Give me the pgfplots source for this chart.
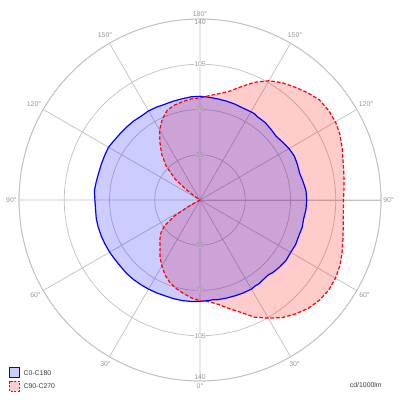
\documentclass[border=0pt]{standalone}
\usepackage{fontspec}
\setmainfont{Liberation Sans}
\usepackage{pgfplots}
\pgfplotsset{compat=1.18}
\usepgfplotslibrary{polar}
\usepackage{pgfplotstable}
\definecolor{gridgray}{RGB}{192,192,192}
\definecolor{labgray}{RGB}{150,150,150}
\definecolor{txtgray}{RGB}{60,60,60}
\definecolor{cblue}{RGB}{0,0,255}
\definecolor{cred}{RGB}{255,0,0}
\definecolor{overlap}{RGB}{204,163,214}

% g = gamma angle (deg), r = cd/1000lm, s = +1 right half / -1 left half
\pgfplotstableread{
g r s
0 78.5 1
5 78.0 1
7.5 77.8 1
10 78.3 1
15 78.6 1
20 78.9 1
25 79.3 1
30 79.6 1
32.5 79.0 1
35 79.2 1
40 78.5 1
42.5 78.4 1
45 79.5 1
50 80.5 1
55 81.3 1
60 81.0 1
65 81.6 1
70 81.3 1
75 81.8 1
80 81.5 1
85 82.3 1
90 82.5 1
95 82.3 1
100 81.0 1
105 79.8 1
110 80.2 1
115 80.5 1
120 79.5 1
125 78.0 1
130 76.8 1
135 77.5 1
140 78.3 1
145 78.2 1
147.5 78.9 1
150 78.8 1
155 78.5 1
160 78.9 1
165 79.2 1
170 79.4 1
175 79.8 1
180 80.2 1
175 80.1 -1
170 79.5 -1
165 79.2 -1
160 78.9 -1
155 79.3 -1
150 79.6 -1
145 79.2 -1
140 79.8 -1
135 80.0 -1
130 80.3 -1
125 80.8 -1
120 81.7 -1
115 81.4 -1
110 81.2 -1
105 81.1 -1
100 81.5 -1
95 82.0 -1
90 81.3 -1
85 81.1 -1
80 81.5 -1
75 81.5 -1
70 81.3 -1
65 81.0 -1
60 80.7 -1
55 80.3 -1
50 80.1 -1
45 80.3 -1
40 80.2 -1
35 79.9 -1
30 79.6 -1
25 79.3 -1
20 78.9 -1
15 79.0 -1
10 79.0 -1
5 78.8 -1
0 78.5 -1
}\blueCurve

\pgfplotstableread{
g r s
0 78 1
5 79 1
10 82 1
15 87 1
20 92.5 1
25 100 1
30 105.5 1
35 111 1
40 115 1
45 118.5 1
50 120.6 1
55 121.5 1
60 121 1
65 119.5 1
70 117 1
75 114.5 1
80 112.5 1
85 111.3 1
90 111 1
95 111.8 1
100 113 1
105 114.6 1
110 117 1
115 119.5 1
120 121 1
125 121.2 1
130 120.5 1
135 117.5 1
140 114 1
145 110.8 1
150 106.5 1
155 100.5 1
160 93.3 1
165 87 1
170 83.5 1
175 81 1
180 79 1
175 78.5 -1
170 77.3 -1
165 76 -1
160 74 -1
155 69 -1
150 62.5 -1
145 54 -1
140 46 -1
135 37 -1
130 25 -1
127 13 -1
124 4 -1
122 0 -1
63 0 -1
61 9 -1
58 23 -1
54 34 -1
50 39.5 -1
45 44 -1
40 48 -1
35 54 -1
30 59 -1
25 64 -1
20 68 -1
15 71 -1
10 73.5 -1
5 76 -1
0 78 -1
}\redCurve

\begin{document}
\begin{tikzpicture}
\path[use as bounding box] (0,0) rectangle (10cm,10cm);
\begin{polaraxis}[
  at={(5cm,5cm)}, anchor=center,
  width=9.05cm, height=9.05cm, scale only axis,
  ymin=0, ymax=140,
  xtick={0,30,...,330},
  xticklabels={90°,120°,150°,180°,150°,120°,90°,60°,30°,0°,30°,60°},
  ytick={35,70,105,140},
  yticklabels={},
  grid=major,
  major grid style={draw=gridgray, line width=0.5pt},
  axis line style={draw=gridgray, line width=0.5pt},
  major tick length=0pt,
  xticklabel style={font=\fontsize{4.9}{5}\selectfont, text=labgray, inner sep=1.5pt},
]
\addplot[draw=none, fill=cred, fill opacity=0.2, forget plot]
  table[x expr={90+\thisrow{s}*(\thisrow{g}-180)}, y=r] {\redCurve};
\addplot[draw=none, fill=cblue, fill opacity=0.2, forget plot]
  table[x expr={90+\thisrow{s}*(\thisrow{g}-180)}, y=r] {\blueCurve};
\addplot[draw=cblue, line width=0.85pt, line join=round, forget plot]
  table[x expr={90+\thisrow{s}*(\thisrow{g}-180)}, y=r] {\blueCurve};
\addplot[draw=cred, line width=0.85pt, dash pattern=on 2.6pt off 1.4pt, line join=round, forget plot]
  table[x expr={90+\thisrow{s}*(\thisrow{g}-180)}, y=r] {\redCurve};
\pgfplotsinvokeforeach{35,70}{
  \node[font=\fontsize{4.9}{5}\selectfont, text=labgray, fill=overlap, inner sep=0.4pt] at (axis cs:90,#1) {#1};
  \node[font=\fontsize{4.9}{5}\selectfont, text=labgray, fill=overlap, inner sep=0.4pt] at (axis cs:270,#1) {#1};
}
\node[font=\fontsize{4.9}{5}\selectfont, text=labgray, fill=white, inner sep=0.4pt] at (axis cs:90,105) {105};
\node[font=\fontsize{4.9}{5}\selectfont, text=labgray, fill=white, inner sep=0.4pt] at (axis cs:270,105) {105};
\node[font=\fontsize{4.9}{5}\selectfont, text=labgray, inner sep=0pt, anchor=north] at (axis cs:90,139.3) {140};
\node[font=\fontsize{4.9}{5}\selectfont, text=labgray, inner sep=0pt, anchor=south] at (axis cs:270,139.3) {140};
\end{polaraxis}
% legend
\draw[cblue, line width=0.7pt, fill=cblue!20] (0.233cm,0.558cm) rectangle (0.483cm,0.808cm);
\draw[cred, line width=0.7pt, dash pattern=on 1.6pt off 1.0pt, fill=cred!20] (0.233cm,0.225cm) rectangle (0.483cm,0.475cm);
\node[anchor=west, inner sep=0pt, font=\fontsize{4.9}{5}\selectfont, text=txtgray] at (0.583cm,0.683cm) {C0-C180};
\node[anchor=west, inner sep=0pt, font=\fontsize{4.9}{5}\selectfont, text=txtgray] at (0.583cm,0.350cm) {C90-C270};
\node[anchor=east, inner sep=0pt, font=\fontsize{4.9}{5}\selectfont, text=txtgray] at (9.55cm,0.375cm) {cd/1000lm};
\end{tikzpicture}
\end{document}
